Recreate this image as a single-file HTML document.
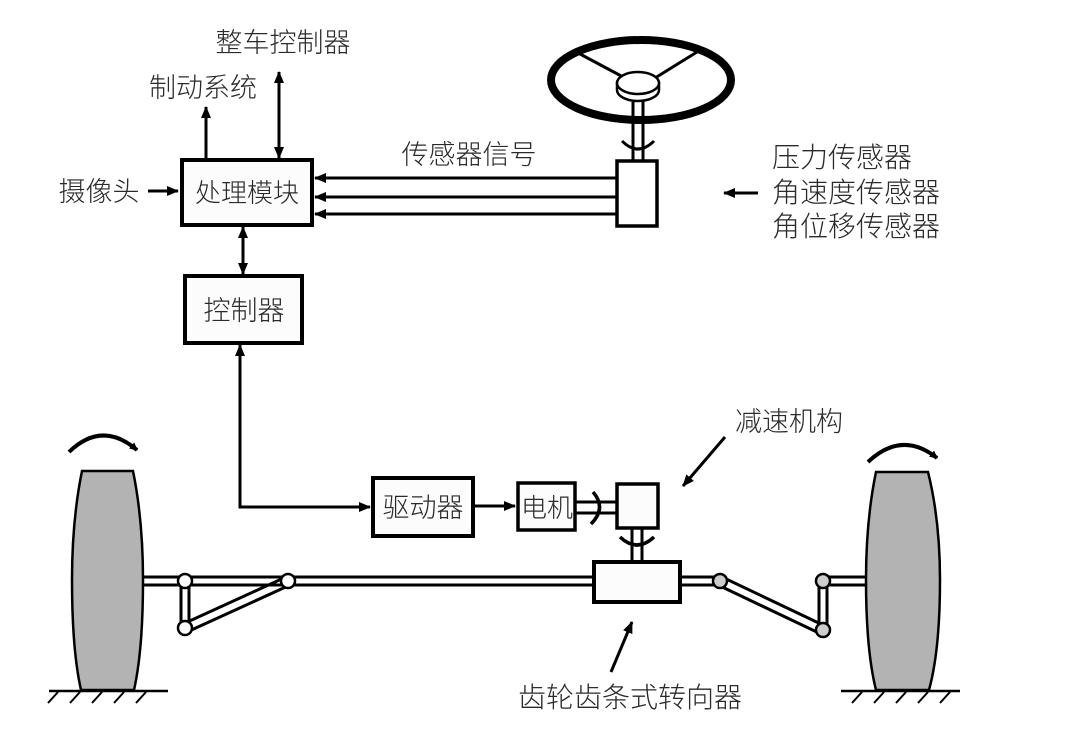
<!DOCTYPE html>
<html><head><meta charset="utf-8"><style>
html,body{margin:0;padding:0;background:#fff;}
svg{display:block;}
text{font-family:"Liberation Sans","Noto Sans CJK SC",sans-serif;fill:#2a2a2a;font-weight:300;}
</style></head><body>
<svg width="1080" height="743" viewBox="0 0 1080 743" xmlns="http://www.w3.org/2000/svg">
<defs>
<marker id="a" markerWidth="8" markerHeight="8" refX="7" refY="4" orient="auto" markerUnits="userSpaceOnUse" viewBox="0 0 8 8">
<path d="M0,0 L8,4 L0,8 z" fill="#000"/></marker>
<marker id="b" markerWidth="12" markerHeight="12" refX="11" refY="6" orient="auto-start-reverse" markerUnits="userSpaceOnUse" viewBox="0 0 12 12">
<path d="M0,1 L12,6 L0,11 z" fill="#000"/></marker>
</defs>
<g stroke="#000" stroke-width="3" fill="none">
<rect x="182" y="160" width="130" height="65" fill="#fcfcfc" stroke-width="4"/>
<rect x="185" y="276" width="117" height="67" fill="#fcfcfc" stroke-width="4"/>
<line x1="206" y1="160" x2="206" y2="107" marker-end="url(#b)"/>
<line x1="279" y1="158" x2="279" y2="72" marker-end="url(#b)" marker-start="url(#b)"/>
<line x1="148" y1="191" x2="178" y2="191" marker-end="url(#b)"/>
<line x1="243" y1="227" x2="243" y2="274" marker-end="url(#b)" marker-start="url(#b)"/>
<line x1="617" y1="178" x2="315" y2="178" marker-end="url(#b)"/>
<line x1="617" y1="197" x2="315" y2="197" marker-end="url(#b)"/>
<line x1="617" y1="214" x2="315" y2="214" marker-end="url(#b)"/>
<line x1="758" y1="193" x2="724" y2="193" marker-end="url(#b)"/>
<line x1="633" y1="95" x2="633" y2="163"/>
<line x1="643" y1="95" x2="643" y2="163"/>
<ellipse cx="641" cy="80" rx="90" ry="40" stroke-width="8"/>
<line x1="580" y1="54" x2="625" y2="78"/>
<line x1="697" y1="52" x2="655" y2="78"/>
<path d="M617,90 a21,11 0 0,0 42,0 v-7 h-42 z" fill="#fff" stroke-width="2.5"/>
<ellipse cx="638" cy="83" rx="21" ry="11" fill="#fff" stroke-width="2.5"/>
<rect x="617" y="161" width="40" height="65" fill="#fff" stroke-width="3.5"/>
<path d="M622,141 q16,16 32,0" stroke-width="3"/>
<polyline points="240,345 240,507 370,507" marker-start="url(#b)" marker-end="url(#b)"/>
<rect x="373" y="478" width="100" height="58" fill="#fcfcfc" stroke-width="4"/>
<line x1="474" y1="506" x2="515" y2="506" marker-end="url(#b)"/>
<rect x="518" y="483" width="57" height="47" fill="#fcfcfc" stroke-width="3.5"/>
<line x1="575" y1="502" x2="617" y2="502"/>
<line x1="575" y1="513" x2="617" y2="513"/>
<path d="M593,492 q14,16 -2,32" stroke-width="3.5"/>
<rect x="617" y="484" width="41" height="44" fill="#fcfcfc" stroke-width="3.5"/>
<line x1="632" y1="528" x2="632" y2="562"/>
<line x1="642" y1="528" x2="642" y2="562"/>
<path d="M620,537 q17,16 34,0" stroke-width="3.5"/>
<line x1="725" y1="437" x2="683" y2="486" marker-end="url(#b)"/>
<line x1="611" y1="672" x2="632" y2="622" marker-end="url(#b)"/>
<line x1="185" y1="577" x2="594" y2="577"/>
<line x1="185" y1="585" x2="594" y2="585"/>
<line x1="680" y1="577" x2="720" y2="577"/>
<line x1="680" y1="585" x2="720" y2="585"/>
<rect x="594" y="562" width="86" height="40" fill="#fcfcfc" stroke-width="4"/>
<line x1="143" y1="577" x2="185" y2="577"/><line x1="143" y1="585" x2="185" y2="585"/>
<line x1="181" y1="581" x2="181" y2="628"/><line x1="189" y1="581" x2="189" y2="628"/>
<line x1="183" y1="624" x2="286" y2="577"/><line x1="187" y1="632" x2="290" y2="585"/>
<circle cx="185" cy="581" r="7" fill="#fff" stroke-width="2.5"/>
<circle cx="185" cy="628" r="7" fill="#fff" stroke-width="2.5"/>
<circle cx="288" cy="581" r="7" fill="#fff" stroke-width="2.5"/>
<line x1="823" y1="577" x2="866" y2="577"/><line x1="823" y1="585" x2="866" y2="585"/>
<line x1="819" y1="581" x2="819" y2="630"/><line x1="827" y1="581" x2="827" y2="630"/>
<line x1="722" y1="577" x2="825" y2="626"/><line x1="718" y1="585" x2="821" y2="634"/>
<circle cx="720" cy="581" r="7" fill="#ccc" stroke-width="2.5"/>
<circle cx="823" cy="581" r="7" fill="#ccc" stroke-width="2.5"/>
<circle cx="823" cy="630" r="7" fill="#ccc" stroke-width="2.5"/>
<path d="M82,471 H133 Q143,520 143,580 Q143,650 134,690 H81 Q72,650 72,580 Q72,520 82,471 Z" fill="#b3b3b3" stroke-width="2.5"/>
<path d="M876,472 H928 Q940,520 940,580 Q940,650 929,690 H876 Q866,650 866,580 Q866,520 876,472 Z" fill="#b3b3b3" stroke-width="2.5"/>
<line x1="49" y1="691" x2="168" y2="691" stroke-width="2.5"/>
<line x1="841" y1="691" x2="960" y2="691" stroke-width="2.5"/>
<g stroke-width="2">
<line x1="58" y1="692" x2="48" y2="703"/><line x1="80" y1="692" x2="70" y2="703"/><line x1="102" y1="692" x2="92" y2="703"/><line x1="124" y1="692" x2="114" y2="703"/><line x1="146" y1="692" x2="136" y2="703"/>
<line x1="862" y1="692" x2="852" y2="703"/><line x1="884" y1="692" x2="874" y2="703"/><line x1="906" y1="692" x2="896" y2="703"/><line x1="928" y1="692" x2="918" y2="703"/><line x1="950" y1="692" x2="940" y2="703"/>
</g>
<path d="M69,452 Q102,420 137,450" stroke-width="4" marker-end="url(#a)"/>
<path d="M868,462 Q902,430 937,458" stroke-width="4" marker-end="url(#a)"/>
</g>
<text x="247" y="202" font-size="26" text-anchor="middle">处理模块</text>
<text x="244" y="320" font-size="27" text-anchor="middle">控制器</text>
<text x="423" y="517" font-size="27" text-anchor="middle">驱动器</text>
<text x="547" y="517" font-size="26" text-anchor="middle">电机</text>
<text x="283" y="52" font-size="27" text-anchor="middle">整车控制器</text>
<text x="203" y="97" font-size="27" text-anchor="middle">制动系统</text>
<text x="99" y="201" font-size="27" text-anchor="middle">摄像头</text>
<text x="469" y="164" font-size="27" text-anchor="middle">传感器信号</text>
<text x="772" y="167" font-size="28">压力传感器</text>
<text x="772" y="202" font-size="28">角速度传感器</text>
<text x="772" y="236" font-size="28">角位移传感器</text>
<text x="735" y="431" font-size="27">减速机构</text>
<text x="518" y="707" font-size="28">齿轮齿条式转向器</text>
</svg>
</body></html>
